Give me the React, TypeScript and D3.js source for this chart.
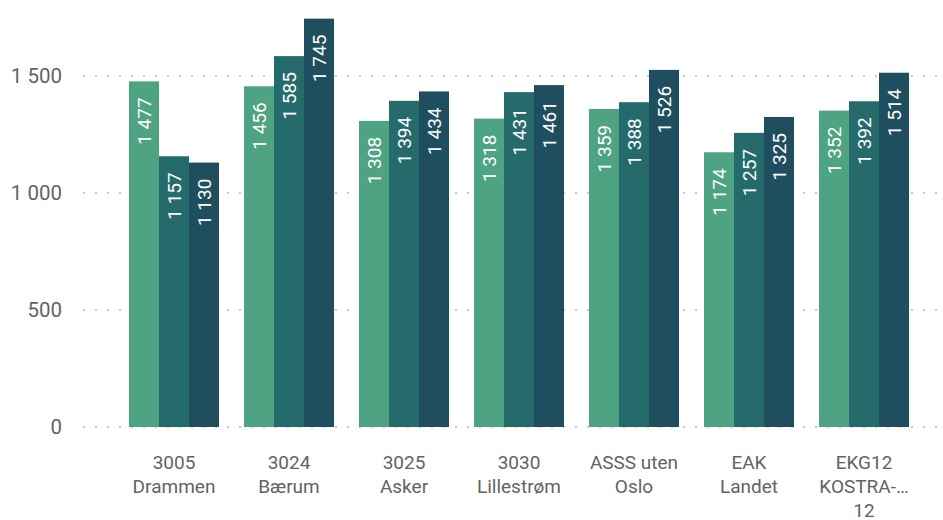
import React from "react";
import * as d3 from "d3";

const categories: string[][] = [
  ["3005", "Drammen"],
  ["3024", "Bærum"],
  ["3025", "Asker"],
  ["3030", "Lillestrøm"],
  ["ASSS uten", "Oslo"],
  ["EAK", "Landet"],
  ["EKG12", "KOSTRA-…", "12"],
];
const seriesNames = ["2021", "2022", "2023"];
const series2021 = [1477, 1456, 1308, 1318, 1359, 1174, 1352];
const series2022 = [1157, 1585, 1394, 1431, 1388, 1257, 1392];
const series2023 = [1130, 1745, 1434, 1461, 1526, 1325, 1514];
const seriesValues = [series2021, series2022, series2023];
const colors = ["#4ea383", "#256b6c", "#1f4e5e"];
const yTicks = [0, 500, 1000, 1500];

const W = 943;
const H = 520;
const fmt = d3.formatLocale({ decimal: ",", thousands: " ", grouping: [3], currency: ["", " kr"] }).format(",d");
const FONT = "Roboto, 'DejaVu Sans', sans-serif";

export default function App() {
  const idx = categories.map((_, i) => i);
  const x0 = d3.scaleBand<number>().domain(idx).range([116.5, 921.5]).paddingInner(0.2174).paddingOuter(0.1087);
  const x1 = d3.scaleBand<number>().domain([0, 1, 2]).range([0, x0.bandwidth()]);
  const y = d3.scaleLinear().domain([0, 1500]).range([427, 76]);

  return (
    <svg width={W} height={H} style={{ position: "absolute", left: 0, top: 0 }} fontFamily={FONT}>
      {yTicks.map((t) => (
        <g key={t}>
          <line x1={83} x2={940} y1={y(t)} y2={y(t)} stroke="#c8c8c8" strokeWidth={2} strokeDasharray="2 10" />
          <text x={62} y={y(t)} dy="0.35em" textAnchor="end" fontSize={20.5} fill="#636363">
            {fmt(t)}
          </text>
        </g>
      ))}
      {idx.map((ci) => (
        <g key={ci} transform={`translate(${x0(ci)},0)`}>
          {seriesValues.map((vals, si) => {
            const v = vals[ci];
            const bx = x1(si)!;
            const bw = x1.bandwidth();
            const top = y(v);
            return (
              <g key={si}>
                <rect x={bx} y={top} width={bw} height={y(0) - top} fill={colors[si]}>
                  <title>{seriesNames[si]}</title>
                </rect>
                <text
                  transform={`translate(${bx + bw / 2},${top + 16}) rotate(-90)`}
                  textAnchor="end"
                  dy="0.35em"
                  fontSize={19}
                  fill="#fff"
                >
                  {fmt(v)}
                </text>
              </g>
            );
          })}
          {categories[ci].map((line, li) => (
            <text
              key={li}
              x={x0.bandwidth() / 2}
              y={462 + li * 24}
              dy="0.35em"
              textAnchor="middle"
              fontSize={19}
              fill="#636363"
            >
              {line}
            </text>
          ))}
        </g>
      ))}
    </svg>
  );
}
